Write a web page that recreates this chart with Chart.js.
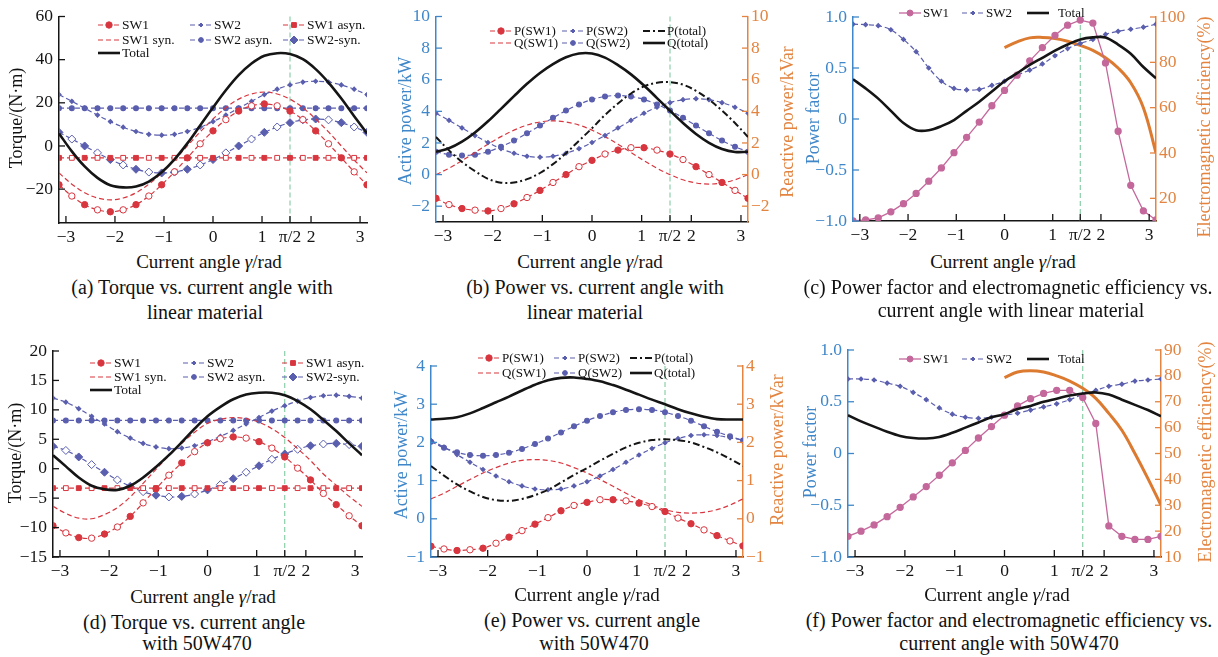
<!DOCTYPE html>
<html>
<head>
<meta charset="utf-8">
<script src="https://cdn.jsdelivr.net/npm/chart.js@4.4.1/dist/chart.umd.min.js"></script>
<style>
body { margin:0; background:#fff; width:1218px; height:657px; position:relative; overflow:hidden;
       font-family:"Liberation Serif","Times New Roman",serif; color:#111; }
canvas { position:absolute; }
.t { position:absolute; white-space:nowrap; font-size:19px; transform:translate(-50%,-50%); }
.v { transform:translate(-50%,-50%) rotate(-90deg); font-size:18px; }
.cap { font-size:20px; }
</style>
</head>
<body>
<script>
// sample angles (rad), step pi/12
const gamma = [-3.1416,-2.8798,-2.6180,-2.3562,-2.0944,-1.8326,-1.5708,-1.3090,-1.0472,-0.7854,-0.5236,-0.2618,0,
               0.2618,0.5236,0.7854,1.0472,1.3090,1.5708,1.8326,2.0944,2.3562,2.6180,2.8798,3.1416];
const xTickVals = [-3,-2,-1,0,1,1.5708,2,3];
const xTickText = ['−3','−2','−1','0','1','π/2','2','3'];

// (a) torque, linear material
const aSW1     = [-18,-23.2,-27.2,-29.6,-30.5,-29.6,-27.2,-23.2,-18,-12,-5.5,1,7,12.2,16.2,18.6,19.5,18.6,16.2,12.2,7,1,-5.5,-12,-18];
const aSW2     = [23.8,20.7,17.5,14.3,11.3,8.7,6.7,5.4,5,5.4,6.7,8.7,11.3,14.3,17.5,20.7,23.8,26.3,28.3,29.6,30,29.6,28.3,26.3,23.8];
const aSW1asyn = [-5.5,-5.5,-5.5,-5.5,-5.5,-5.5,-5.5,-5.5,-5.5,-5.5,-5.5,-5.5,-5.5,-5.5,-5.5,-5.5,-5.5,-5.5,-5.5,-5.5,-5.5,-5.5,-5.5,-5.5,-5.5];
const aSW1syn  = [-12.5,-17.7,-21.7,-24.1,-25,-24.1,-21.7,-17.7,-12.5,-6.5,0,6.5,12.5,17.7,21.7,24.1,25,24.1,21.7,17.7,12.5,6.5,0,-6.5,-12.5];
const aSW2asyn = [17.5,17.5,17.5,17.5,17.5,17.5,17.5,17.5,17.5,17.5,17.5,17.5,17.5,17.5,17.5,17.5,17.5,17.5,17.5,17.5,17.5,17.5,17.5,17.5,17.5];
const aSW2syn  = [6.3,3.2,0,-3.2,-6.3,-8.8,-10.8,-12.1,-12.5,-12.1,-10.8,-8.8,-6.3,-3.2,0,3.2,6.3,8.8,10.8,12.1,12.5,12.1,10.8,8.8,6.3];
const aTotal   = [5.8,-2.5,-9.5,-14.8,-18.2,-19.2,-18.8,-16.5,-12.2,-6.2,1.2,9.5,17.8,25.8,32.8,38.2,41.8,43,42.6,40.2,35.6,29.4,22,13.8,5.8];
const aYVals = [-20,0,20,40,60];
const aYText = ['−20','0','20','40','60'];

// (b) power, linear material
const bP1 = [-1.5,-1.9,-2.15,-2.25,-2.3,-2.15,-1.85,-1.45,-1.0,-0.5,0.0,0.5,0.9,1.3,1.55,1.7,1.7,1.55,1.3,0.95,0.5,0.0,-0.5,-1.0,-1.5];
const bP2 = [3.88,3.43,2.95,2.47,2.03,1.64,1.35,1.16,1.1,1.16,1.35,1.64,2.03,2.47,2.95,3.43,3.88,4.26,4.55,4.74,4.8,4.74,4.55,4.26,3.88];
const bPt = [2.38,1.53,0.8,0.22,-0.27,-0.51,-0.5,-0.29,0.1,0.66,1.35,2.14,2.93,3.77,4.5,5.13,5.58,5.81,5.85,5.69,5.3,4.74,4.05,3.26,2.38];
const bQ1 = [0,0.4,0.88,1.4,1.92,2.4,2.81,3.13,3.33,3.4,3.33,3.13,2.81,2.4,1.92,1.4,0.88,0.4,0,-0.33,-0.53,-0.6,-0.53,-0.33,0];
const bQ2 = [1.45,1.26,1.2,1.26,1.45,1.76,2.15,2.61,3.1,3.59,4.05,4.44,4.75,4.94,5.0,4.94,4.75,4.44,4.05,3.59,3.1,2.61,2.15,1.76,1.45];
const bQt = [1.44,1.66,2.08,2.66,3.37,4.16,4.96,5.74,6.43,6.99,7.42,7.66,7.66,7.4,6.92,6.34,5.63,4.84,4.04,3.26,2.57,2.01,1.62,1.43,1.44];
const bYVals = [-2,0,2,4,6,8,10];
const bYText = ['−2','0','2','4','6','8','10'];

// (c) power factor / efficiency, linear material
const cSW1   = [-1.0,-0.99,-0.97,-0.91,-0.83,-0.73,-0.61,-0.48,-0.33,-0.18,-0.03,0.13,0.28,0.43,0.57,0.70,0.82,0.92,0.97,0.94,0.55,-0.12,-0.65,-0.9,-0.99];
const cSW2   = [0.93,0.925,0.915,0.875,0.78,0.66,0.5,0.37,0.3,0.285,0.29,0.33,0.37,0.43,0.48,0.54,0.62,0.69,0.74,0.78,0.83,0.86,0.88,0.9,0.93];
const cTotal = [0.39,0.3,0.2,0.08,-0.04,-0.11,-0.11,-0.07,-0.01,0.08,0.17,0.27,0.37,0.45,0.53,0.6,0.67,0.73,0.78,0.8,0.8,0.73,0.64,0.51,0.4];
const cEff   = [null,null,null,null,null,null,null,null,null,null,null,null,86.5,89,90.8,91,90.5,89.3,87.5,85.3,82,77.5,71,60,40];
const pfVals = [-1,-0.5,0,0.5,1];
const pfText = ['−1.0','−0.5','0','0.5','1.0'];
const cEffVals = [20,40,60,80,100];
const cEffText = ['20','40','60','80','100'];

// (d) torque, 50W470
const dSW1     = [-9.7,-10.9,-11.7,-11.8,-11.1,-9.9,-8.1,-5.8,-3.4,-1.1,1.0,2.9,4.4,5.1,5.4,5.2,4.6,3.5,2.0,0.1,-1.9,-4.2,-6.1,-8.0,-9.7];
const dSW2     = [12.0,11.3,10.2,8.9,7.6,6.3,5.2,4.3,3.7,3.4,3.5,3.9,4.6,5.5,6.5,7.6,8.7,9.8,10.7,11.5,12.1,12.4,12.5,12.3,12.0];
const dSW1asyn = [-3.3,-3.3,-3.3,-3.3,-3.3,-3.3,-3.3,-3.3,-3.3,-3.3,-3.3,-3.3,-3.3,-3.3,-3.3,-3.3,-3.3,-3.3,-3.3,-3.3,-3.3,-3.3,-3.3,-3.3,-3.3];
const dSW1syn  = [-6.4,-7.6,-8.4,-8.5,-7.8,-6.6,-4.8,-2.5,-0.1,2.2,4.3,6.2,7.7,8.4,8.7,8.5,7.9,6.8,5.3,3.4,1.4,-0.9,-2.8,-4.7,-6.4];
const dSW2asyn = [8.2,8.2,8.2,8.2,8.2,8.2,8.2,8.2,8.2,8.2,8.2,8.2,8.2,8.2,8.2,8.2,8.2,8.2,8.2,8.2,8.2,8.2,8.2,8.2,8.2];
const dSW2syn  = [3.8,3.1,2.0,0.7,-0.6,-1.9,-3.0,-3.9,-4.5,-4.8,-4.7,-4.3,-3.6,-2.7,-1.7,-0.6,0.5,1.6,2.5,3.3,3.9,4.2,4.3,4.1,3.8];
const dTotal   = [2.3,0.4,-1.5,-2.9,-3.5,-3.6,-2.9,-1.5,0.3,2.3,4.5,6.8,8.9,10.5,11.8,12.6,12.9,12.9,12.5,11.5,10.1,8.3,6.4,4.3,2.3];
const dYVals = [-15,-10,-5,0,5,10,15,20];
const dYText = ['−15','−10','−5','0','5','10','15','20'];

// (e) power, 50W470
const eP1 = [-0.72,-0.79,-0.83,-0.81,-0.77,-0.64,-0.48,-0.31,-0.14,0.03,0.21,0.35,0.43,0.5,0.5,0.47,0.41,0.32,0.19,0.02,-0.13,-0.29,-0.44,-0.58,-0.71];
const eP2 = [2.05,1.88,1.68,1.48,1.29,1.12,0.97,0.86,0.78,0.76,0.78,0.86,0.97,1.12,1.29,1.48,1.67,1.84,1.99,2.1,2.18,2.2,2.18,2.12,2.06];
const ePt = [1.38,1.13,0.9,0.72,0.57,0.49,0.47,0.52,0.62,0.76,0.95,1.15,1.33,1.52,1.7,1.87,1.99,2.06,2.08,2.06,2.0,1.88,1.74,1.57,1.38];
const eQ1 = [0.52,0.67,0.85,1.03,1.2,1.34,1.46,1.53,1.55,1.53,1.46,1.34,1.2,1.03,0.85,0.67,0.5,0.36,0.24,0.17,0.15,0.17,0.24,0.36,0.52];
const eQ2 = [2.02,1.86,1.74,1.67,1.65,1.67,1.73,1.83,1.96,2.1,2.26,2.42,2.57,2.69,2.79,2.85,2.87,2.85,2.79,2.69,2.57,2.42,2.28,2.16,2.05];
const eQt = [2.6,2.62,2.66,2.76,2.9,3.05,3.2,3.36,3.51,3.63,3.69,3.7,3.66,3.6,3.5,3.38,3.25,3.12,3.0,2.87,2.76,2.67,2.61,2.6,2.6];
const eYVals = [-1,0,1,2,3,4];
const eYText = ['−1','0','1','2','3','4'];

// (f) power factor / efficiency, 50W470
const fSW1   = [-0.8,-0.75,-0.69,-0.61,-0.52,-0.42,-0.32,-0.21,-0.09,0.03,0.15,0.26,0.37,0.46,0.53,0.58,0.61,0.61,0.54,0.29,-0.7,-0.8,-0.83,-0.83,-0.8];
const fSW2   = [0.72,0.72,0.71,0.68,0.65,0.59,0.52,0.44,0.38,0.35,0.34,0.35,0.37,0.39,0.42,0.45,0.48,0.52,0.57,0.61,0.65,0.67,0.7,0.71,0.72];
const fTotal = [0.37,0.31,0.26,0.21,0.17,0.15,0.145,0.16,0.2,0.25,0.3,0.35,0.38,0.43,0.46,0.5,0.53,0.56,0.58,0.59,0.57,0.52,0.47,0.42,0.36];
const fEff   = [null,null,null,null,null,null,null,null,null,null,null,null,79.3,81.5,82,81.5,80,78,75.2,71.3,65.5,59,50,40.3,30];
const fEffVals = [10,20,30,40,50,60,70,80,90];
const fEffText = ['10','20','30','40','50','60','70','80','90'];

const FONT = '"Liberation Serif","Times New Roman",serif';
const TICK = 17.5;
const RED = '#d8363f', BLUE = '#5a5eae', BLACK = '#151515', PINK = '#c4689c', ORANGE = '#dc7a30';
const AXBLUE = '#3f87c9', AXORANGE = '#e38440', GREEN = '#76c497';

function alt(c) { return gamma.map((_, i) => i % 2 ? '#fff' : c); }
function series(label, arr, style, axis) {
  return Object.assign({ label: label, data: gamma.map((x, i) => ({ x: x, y: arr[i] })),
    yAxisID: axis || 'y', fill: false, tension: 0.35, pointHoverRadius: 0, borderWidth: 1.2 }, style);
}
const st = {
  redCircle: { borderColor: RED, borderDash: [5, 3], pointStyle: 'circle', pointRadius: 3.2, pointBackgroundColor: alt(RED), pointBorderColor: RED, pointBorderWidth: 1 },
  redDash:   { borderColor: RED, borderDash: [5, 3], pointRadius: 0 },
  redSquare: { borderColor: RED, borderDash: [5, 3], pointStyle: 'rect', pointRadius: 3.4, pointBackgroundColor: alt(RED), pointBorderColor: RED, pointBorderWidth: 1 },
  blueCross: { borderColor: BLUE, borderDash: [5, 3], pointStyle: 'rectRot', pointRadius: 2, pointBackgroundColor: BLUE, pointBorderColor: BLUE },
  blueDot:   { borderColor: BLUE, borderDash: [5, 3], pointStyle: 'circle', pointRadius: 2.4, pointBackgroundColor: BLUE, pointBorderColor: BLUE },
  blueDiam:  { borderColor: BLUE, borderDash: [5, 3], pointStyle: 'rectRot', pointRadius: 4, pointBackgroundColor: alt(BLUE), pointBorderColor: BLUE, pointBorderWidth: 1 },
  black:     { borderColor: BLACK, borderWidth: 2.6, pointRadius: 0, order: -1 },
  blackDD:   { borderColor: BLACK, borderWidth: 2, borderDash: [7, 3, 2, 3], pointRadius: 0, order: -1 },
  pink:      { borderColor: PINK, borderWidth: 1.3, tension: 0, pointStyle: 'circle', pointRadius: 3, pointBackgroundColor: PINK, pointBorderColor: PINK },
  orange:    { borderColor: ORANGE, borderWidth: 3, pointRadius: 0, tension: 0.4 }
};

// draws legend rows with line samples
const panelLegend = {
  id: 'panelLegend',
  afterDraw(chart, args, opts) {
    const ctx = chart.ctx, L = 22;
    (opts.items || []).forEach(it => {
      const ds = chart.data.datasets[it.ds];
      ctx.save();
      ctx.strokeStyle = ds.borderColor; ctx.lineWidth = ds.borderWidth;
      ctx.setLineDash(ds.borderDash || []);
      ctx.beginPath(); ctx.moveTo(it.x, it.y); ctx.lineTo(it.x + L, it.y); ctx.stroke();
      ctx.setLineDash([]);
      if (ds.pointRadius > 0) {
        ctx.fillStyle = ds.borderColor; ctx.lineWidth = 1;
        Chart.helpers.drawPoint(ctx, { pointStyle: ds.pointStyle, radius: ds.pointRadius, borderWidth: 1, rotation: 0 }, it.x + L / 2, it.y);
      }
      ctx.fillStyle = '#111'; ctx.font = (opts.size || 13) + 'px ' + FONT;
      ctx.textBaseline = 'middle'; ctx.textAlign = 'left';
      ctx.fillText(ds.label, it.x + L + (it.gap || 2), it.y + 0.5);
      ctx.restore();
    });
  }
};
// inward tick marks + green pi/2 marker
const axisExtras = {
  id: 'axisExtras',
  beforeDatasetsDraw(chart) {
    const ctx = chart.ctx, a = chart.chartArea, px = chart.scales.x.getPixelForValue(Math.PI / 2);
    ctx.save();
    ctx.strokeStyle = GREEN; ctx.lineWidth = 1; ctx.setLineDash([5, 3]);
    ctx.beginPath(); ctx.moveTo(px, a.top); ctx.lineTo(px, a.bottom); ctx.stroke();
    ctx.restore();
  },
  afterDraw(chart) {
    const ctx = chart.ctx;
    ctx.save(); ctx.setLineDash([]); ctx.lineWidth = 1.3;
    Object.values(chart.scales).forEach(s => {
      ctx.strokeStyle = s.options.border.color;
      s.ticks.forEach(t => {
        const p = s.getPixelForValue(t.value);
        ctx.beginPath();
        if (s.axis === 'x') { ctx.moveTo(p, s.top); ctx.lineTo(p, s.top - 7); }
        else if (s.position === 'left') { ctx.moveTo(s.right, p); ctx.lineTo(s.right + 6, p); }
        else { ctx.moveTo(s.left, p); ctx.lineTo(s.left - 6, p); }
        ctx.stroke();
      });
    });
    ctx.restore();
  }
};
Chart.register(panelLegend, axisExtras);

function yAxis(pos, min, max, vals, text, color, width) {
  return {
    type: 'linear', position: pos, min: min, max: max,
    grid: { display: false, drawTicks: false },
    border: { display: true, color: color, width: 1.5 },
    ticks: { color: color, font: { family: FONT, size: TICK }, padding: pos === 'left' ? 6 : 3, autoSkip: false,
             callback: (v, i) => text[i] },
    afterBuildTicks: s => { s.ticks = vals.map(v => ({ value: v })); },
    afterFit: s => { s.width = width; }
  };
}

function makePanel(p) {
  const cv = document.createElement('canvas');
  cv.width = p.w; cv.height = p.h;
  cv.style.left = p.left + 'px'; cv.style.top = p.top + 'px';
  cv.style.width = p.w + 'px'; cv.style.height = p.h + 'px';
  document.body.appendChild(cv);
  const scales = {
    x: { type: 'linear', min: -Math.PI, max: Math.PI,
         grid: { display: false, drawTicks: false },
         border: { display: true, color: BLACK, width: 1.5 },
         ticks: { color: BLACK, font: { family: FONT, size: TICK }, padding: 4, autoSkip: false, maxRotation: 0,
                  callback: (v, i) => xTickText[i] },
         afterBuildTicks: s => { s.ticks = xTickVals.map(v => ({ value: v })); },
         afterFit: s => { s.height = p.xH; } },
    y: p.y
  };
  if (p.y2) scales.y2 = p.y2;
  new Chart(cv.getContext('2d'), {
    type: 'line',
    data: { datasets: p.datasets },
    options: {
      responsive: false, animation: false, devicePixelRatio: 1,
      layout: { padding: { top: p.padTop, right: p.padRight || 0, left: 0, bottom: 0 } },
      plugins: { legend: { display: false }, tooltip: { enabled: false },
                 panelLegend: { size: p.legendSize,
                   items: p.legend.map(it => ({ ds: it[0], x: it[1] - p.left, y: it[2] - p.top, gap: it[3] })) } },
      scales: scales
    }
  });
}

makePanel({ left: 0, top: 0, w: 395, h: 251, padTop: 16, padRight: 28, xH: 28, legendSize: 13.5,
  y: yAxis('left', -35.7, 60, aYVals, aYText, BLACK, 59),
  datasets: [series('SW1', aSW1, st.redCircle), series('SW2', aSW2, st.blueCross), series('SW1 asyn.', aSW1asyn, st.redSquare),
             series('SW1 syn.', aSW1syn, st.redDash), series('SW2 asyn.', aSW2asyn, st.blueDot), series('SW2-syn.', aSW2syn, st.blueDiam),
             series('Total', aTotal, st.black)],
  legend: [[0, 98, 25], [1, 190, 25], [2, 283, 25], [3, 98, 40], [4, 190, 40], [5, 283, 40], [6, 98, 53]] });

makePanel({ left: 393, top: 0, w: 405, h: 251, padTop: 16, xH: 29, legendSize: 13,
  y: yAxis('left', -3, 10, bYVals, bYText, AXBLUE, 43),
  y2: yAxis('right', -3, 10, bYVals, bYText, AXORANGE, 50),
  datasets: [series('P(SW1)', bP1, st.redCircle), series('P(SW2)', bP2, st.blueCross), series('P(total)', bPt, st.blackDD),
             series('Q(SW1)', bQ1, st.redDash, 'y2'), series('Q(SW2)', bQ2, st.blueDot, 'y2'), series('Q(total)', bQt, st.black, 'y2')],
  legend: [[0, 490, 31], [1, 562, 31], [2, 643, 31], [3, 490, 43], [4, 562, 43], [5, 643, 43]] });

makePanel({ left: 800, top: 0, w: 418, h: 251, padTop: 17, xH: 30, legendSize: 13,
  y: yAxis('left', -1, 1, pfVals, pfText, AXBLUE, 53),
  y2: yAxis('right', 10, 100, cEffVals, cEffText, AXORANGE, 62),
  datasets: [series('SW1', cSW1, st.pink), series('SW2', cSW2, st.blueCross), series('Total', cTotal, st.black),
             series('Efficiency', cEff, st.orange, 'y2')],
  legend: [[0, 899, 13], [1, 962, 13], [2, 1027, 13, 9]] });

makePanel({ left: 0, top: 330, w: 395, h: 256, padTop: 21, padRight: 33, xH: 29, legendSize: 13.5,
  y: yAxis('left', -15, 20, dYVals, dYText, BLACK, 53),
  datasets: [series('SW1', dSW1, st.redCircle), series('SW2', dSW2, st.blueCross), series('SW1 asyn.', dSW1asyn, st.redSquare),
             series('SW1 syn.', dSW1syn, st.redDash), series('SW2 asyn.', dSW2asyn, st.blueDot), series('SW2-syn.', dSW2syn, st.blueDiam),
             series('Total', dTotal, st.black)],
  legend: [[0, 90, 363], [1, 183, 363], [2, 282, 363], [3, 90, 377], [4, 183, 377], [5, 282, 377], [6, 90, 390]] });

makePanel({ left: 391, top: 330, w: 398, h: 256, padTop: 36, xH: 29, legendSize: 13,
  y: yAxis('left', -1, 4, eYVals, eYText, AXBLUE, 40),
  y2: yAxis('right', -1, 4, eYVals, eYText, AXORANGE, 46),
  datasets: [series('P(SW1)', eP1, st.redCircle), series('P(SW2)', eP2, st.blueCross), series('P(total)', ePt, st.blackDD),
             series('Q(SW1)', eQ1, st.redDash, 'y2'), series('Q(SW2)', eQ2, st.blueDot, 'y2'), series('Q(total)', eQt, st.black, 'y2')],
  legend: [[0, 478, 358], [1, 554, 358], [2, 630, 358], [3, 478, 373], [4, 554, 373], [5, 630, 373]] });

makePanel({ left: 800, top: 330, w: 418, h: 256, padTop: 20, xH: 29, legendSize: 13,
  y: yAxis('left', -1, 1, pfVals, pfText, AXBLUE, 48),
  y2: yAxis('right', 10, 90, fEffVals, fEffText, AXORANGE, 57),
  datasets: [series('SW1', fSW1, st.pink), series('SW2', fSW2, st.blueCross), series('Total', fTotal, st.black),
             series('Efficiency', fEff, st.orange, 'y2')],
  legend: [[0, 899, 359], [1, 962, 359], [2, 1027, 359, 9]] });

// axis titles and captions
const labels = [
  { x: 209, y: 262, html: 'Current angle <i>γ</i>/rad' },
  { x: 590, y: 262, html: 'Current angle <i>γ</i>/rad' },
  { x: 1003, y: 262, html: 'Current angle <i>γ</i>/rad' },
  { x: 203, y: 597, html: 'Current angle <i>γ</i>/rad' },
  { x: 587, y: 595, html: 'Current angle <i>γ</i>/rad' },
  { x: 997, y: 595, html: 'Current angle <i>γ</i>/rad' },
  { x: 16, y: 118, html: 'Torque/(N·m)', v: 1 },
  { x: 405, y: 121, html: 'Active power/kW', v: 1, c: AXBLUE },
  { x: 787, y: 122, html: 'Reactive power/kVar', v: 1, c: AXORANGE },
  { x: 813, y: 118, html: 'Power factor', v: 1, c: AXBLUE },
  { x: 1204, y: 127, html: 'Electromagnetic efficiency(%)', v: 1, c: AXORANGE },
  { x: 15, y: 453, html: 'Torque/(N·m)', v: 1 },
  { x: 401, y: 455, html: 'Active power/kW', v: 1, c: AXBLUE },
  { x: 777, y: 450, html: 'Reactive power/kVar', v: 1, c: AXORANGE },
  { x: 810, y: 452, html: 'Power factor', v: 1, c: AXBLUE },
  { x: 1205, y: 452, html: 'Electromagnetic efficiency(%)', v: 1, c: AXORANGE },
  { x: 202, y: 287, html: '(a) Torque vs. current angle with', cap: 1 },
  { x: 205, y: 312, html: 'linear material', cap: 1 },
  { x: 595, y: 287, html: '(b) Power vs. current angle with', cap: 1 },
  { x: 585, y: 312, html: 'linear material', cap: 1 },
  { x: 1008, y: 287, html: '(c) Power factor and electromagnetic efficiency vs.', cap: 1 },
  { x: 1011, y: 310, html: 'current angle with linear material', cap: 1 },
  { x: 194, y: 622, html: '(d) Torque vs. current angle', cap: 1 },
  { x: 197, y: 643, html: 'with 50W470', cap: 1 },
  { x: 592, y: 620, html: '(e) Power vs. current angle', cap: 1 },
  { x: 594, y: 643, html: 'with 50W470', cap: 1 },
  { x: 1009, y: 620, html: '(f) Power factor and electromagnetic efficiency vs.', cap: 1 },
  { x: 1009, y: 643, html: 'current angle with 50W470', cap: 1 }
];
labels.forEach(l => {
  const d = document.createElement('div');
  d.className = 't' + (l.v ? ' v' : '') + (l.cap ? ' cap' : '');
  d.style.left = l.x + 'px'; d.style.top = l.y + 'px';
  if (l.c) d.style.color = l.c;
  d.innerHTML = l.html;
  document.body.appendChild(d);
});
</script>
</body>
</html>
